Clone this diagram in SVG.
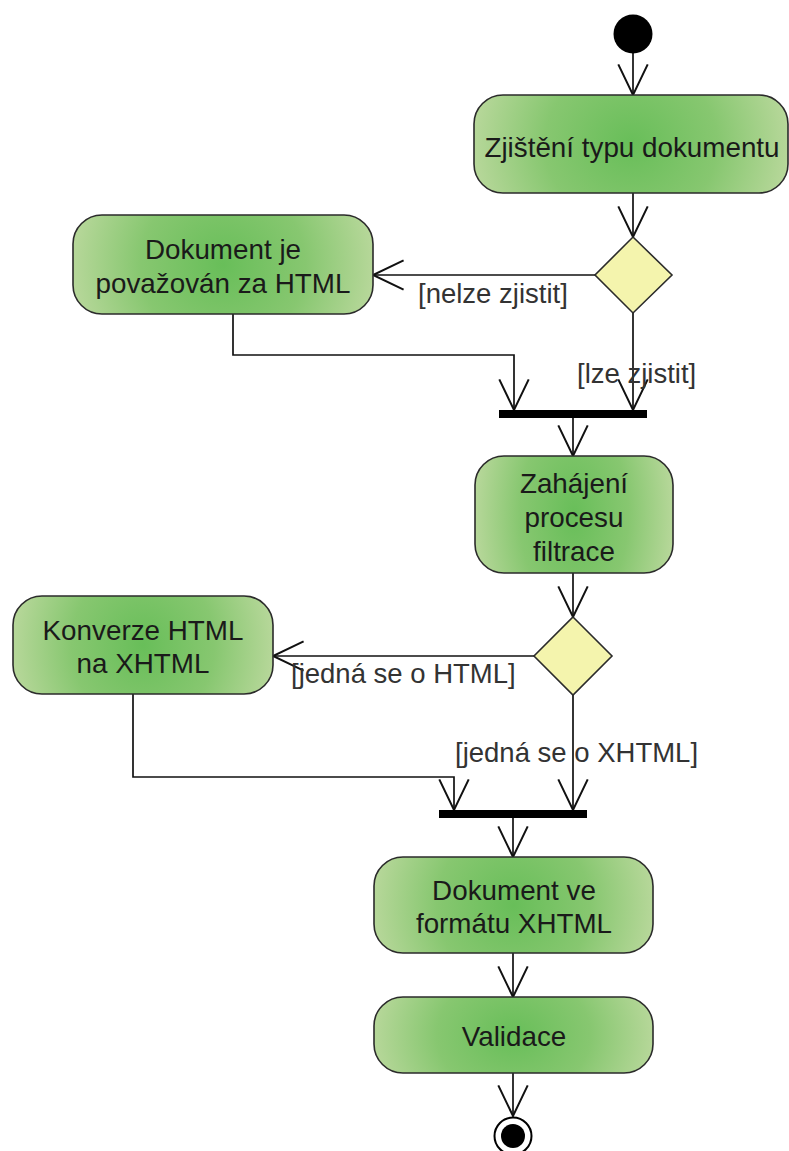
<svg xmlns="http://www.w3.org/2000/svg" width="789" height="1151" viewBox="0 0 789 1151">
  <defs>
    <radialGradient id="actionFill" cx="0.5" cy="0.5" r="0.5" gradientTransform="translate(0.5,0.5) scale(1,3) translate(-0.5,-0.5)">
      <stop offset="0" stop-color="#68be59"/>
      <stop offset="0.55" stop-color="#87c770"/>
      <stop offset="1" stop-color="#b6d799"/>
    </radialGradient>
    <marker id="openArrow" markerUnits="userSpaceOnUse" markerWidth="40" markerHeight="40" viewBox="-30 -16 34 32" refX="0" refY="0" orient="auto">
      <path d="M-26,-12.5 L0,0 L-26,12.5" fill="none" stroke="#111" stroke-width="1.7"/>
    </marker>
    <style>
      .action { fill: url(#actionFill); stroke: #2b2b2b; stroke-width: 1.6; }
      .decision { fill: #f4f4ad; stroke: #2b2b2b; stroke-width: 1.6; }
      .bar { fill: #000; }
      .flow { fill: none; stroke: #111; stroke-width: 1.7; marker-end: url(#openArrow); }
      .label { font-family: "Liberation Sans", Arial, sans-serif; font-size: 27.8px; fill: #1a1a1a; text-anchor: middle; }
      .guard { font-family: "Liberation Sans", Arial, sans-serif; font-size: 27.5px; fill: #333; }
    </style>
  </defs>

  <rect width="789" height="1151" fill="#fff"/>

  <!-- control flows -->
  <g id="connectors">
    <path class="flow" d="M633,53 L633,95"/>
    <path class="flow" d="M633,193 L633,237"/>
    <path class="flow" d="M595,275 L373,275"/>
    <path class="flow" d="M633,313 L633,410"/>
    <path class="flow" d="M233,314 L233,355 L514,355 L514,410"/>
    <path class="flow" d="M573,418 L573,456"/>
    <path class="flow" d="M573,573 L573,617"/>
    <path class="flow" d="M534,656 L273,656"/>
    <path class="flow" d="M573,695 L573,810"/>
    <path class="flow" d="M133,694 L133,777 L454,777 L454,810"/>
    <path class="flow" d="M513,818 L513,857"/>
    <path class="flow" d="M513,953 L513,997"/>
    <path class="flow" d="M513,1073 L513,1116"/>
    <text class="guard" x="418" y="303">[nelze zjistit]</text>
    <text class="guard" x="577" y="383">[lze zjistit]</text>
    <text class="guard" x="291" y="683">[jedná se o HTML]</text>
    <text class="guard" x="455" y="762">[jedná se o XHTML]</text>
  </g>

  <g id="start">
    <circle cx="633" cy="34" r="19.5" fill="#000"/>
  </g>

  <g id="zjisteni-typu">
    <rect class="action" x="474" y="95" width="314" height="98" rx="29" ry="29"/>
    <text class="label" x="632" y="157">Zjištění typu dokumentu</text>
  </g>

  <g id="decision-typ">
    <polygon class="decision" points="633,237 672,275 633,313 595,275"/>
  </g>

  <g id="povazovan-html">
    <rect class="action" x="73" y="215" width="300" height="99" rx="29" ry="29"/>
    <text class="label" x="223" y="259">Dokument je</text>
    <text class="label" x="223" y="293">považován za HTML</text>
  </g>

  <g id="join-1">
    <rect class="bar" x="499" y="410" width="148" height="8"/>
  </g>

  <g id="zahajeni-filtrace">
    <rect class="action" x="475" y="456" width="198" height="117" rx="29" ry="29"/>
    <text class="label" x="574" y="493">Zahájení</text>
    <text class="label" x="574" y="527">procesu</text>
    <text class="label" x="574" y="561">filtrace</text>
  </g>

  <g id="decision-format">
    <polygon class="decision" points="573,617 612,656 573,695 534,656"/>
  </g>

  <g id="konverze">
    <rect class="action" x="13" y="596" width="260" height="98" rx="29" ry="29"/>
    <text class="label" x="143" y="640">Konverze HTML</text>
    <text class="label" x="143" y="673">na XHTML</text>
  </g>

  <g id="join-2">
    <rect class="bar" x="439" y="810" width="148" height="8"/>
  </g>

  <g id="dokument-xhtml">
    <rect class="action" x="374" y="857" width="279" height="96" rx="29" ry="29"/>
    <text class="label" x="514" y="900">Dokument ve</text>
    <text class="label" x="514" y="933">formátu XHTML</text>
  </g>

  <g id="validace">
    <rect class="action" x="374" y="997" width="279" height="76" rx="29" ry="29"/>
    <text class="label" x="514" y="1046">Validace</text>
  </g>

  <g id="end">
    <circle cx="513" cy="1136" r="18.5" fill="#fff" stroke="#000" stroke-width="2"/>
    <circle cx="513" cy="1136" r="12" fill="#000"/>
  </g>
</svg>
